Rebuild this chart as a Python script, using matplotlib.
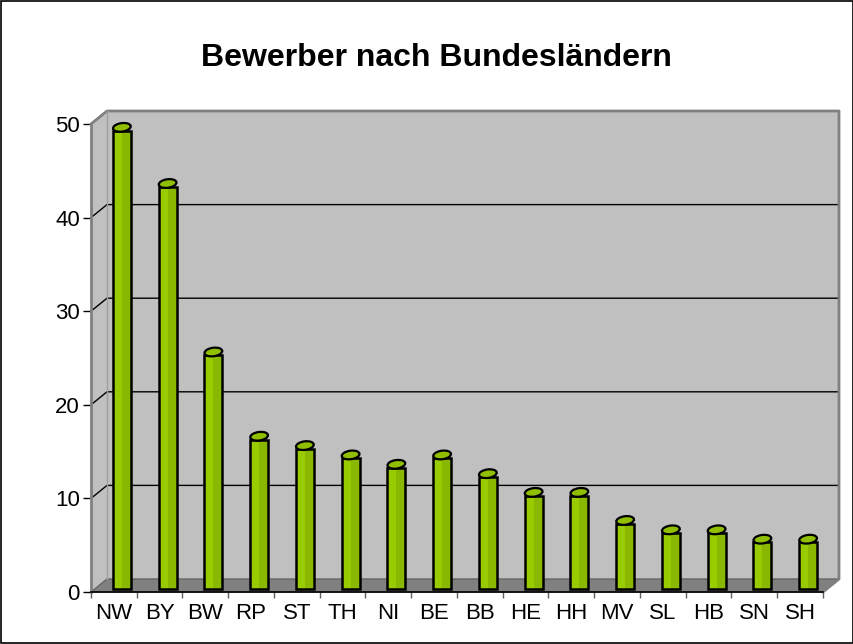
import matplotlib
matplotlib.use("Agg")
import matplotlib.pyplot as plt
from matplotlib.patches import Polygon, Ellipse, Rectangle
from matplotlib.transforms import ScaledTranslation
import numpy as np

plt.rcParams['font.family'] = ['Liberation Sans', 'DejaVu Sans']

categories = ["NW", "BY", "BW", "RP", "ST", "TH", "NI", "BE", "BB", "HE", "HH", "MV", "SL", "HB", "SN", "SH"]
values = [49, 43, 25, 16, 15, 14, 13, 14, 12, 10, 10, 7, 6, 6, 5, 5]
yticks = [0, 10, 20, 30, 40, 50]
title = "Bewerber nach Bundesländern"

W, H = 854, 644
fig = plt.figure(figsize=(W / 100, H / 100), dpi=100)
fig.patch.set_facecolor("white")

L, R, B, T = 91, 823, 592, 124
ax = fig.add_axes([L / W, (H - B) / H, (R - L) / W, (B - T) / H])
n = len(categories)
ax.set_xlim(-0.5, n - 0.5)
ax.set_ylim(0, 50)
ax.patch.set_visible(False)

pxx = (R - L) / n
pxy = (B - T) / 50.0
ox, oy = 16 / pxx, 13 / pxy          # full depth in data units
mx, my = 8 / pxx, 6 / pxy            # bar depth (middle)

x0, x1 = -0.5, n - 0.5
wall = "#c0c0c0"
# back wall
ax.add_patch(Polygon([(x0 + ox, oy), (x1 + ox, oy), (x1 + ox, 50 + oy), (x0 + ox, 50 + oy)],
                     closed=True, facecolor=wall, edgecolor="none", clip_on=False, zorder=1))
# left wall
ax.add_patch(Polygon([(x0, 0), (x0 + ox, oy), (x0 + ox, 50 + oy), (x0, 50)],
                     closed=True, facecolor=wall, edgecolor="none", clip_on=False, zorder=1))
# floor
ax.add_patch(Polygon([(x0, 0), (x1, 0), (x1 + ox, oy), (x0 + ox, oy)],
                     closed=True, facecolor="#808080", edgecolor="#666666", lw=1, clip_on=False, zorder=1))
# gridlines
for v in yticks[1:-1]:
    ax.plot([x0, x0 + ox, x1 + ox], [v, v + oy, v + oy], color="black", lw=1, clip_on=False, zorder=2)
# wall edges
ax.plot([x0, x0 + ox, x1 + ox, x1 + ox, x1], [50, 50 + oy, 50 + oy, oy, 0],
        color="#808080", lw=2, clip_on=False, zorder=2)
ax.plot([x0 + ox, x0 + ox], [oy, 50 + oy], color="#a0a0a0", lw=1, clip_on=False, zorder=2)

# bars (cylinders)
bw = 0.39
light = "#99cc00"
dark = "#7ea800"
for i, v in enumerate(values):
    xc = i + mx
    ax.bar(xc, v, width=bw, bottom=my - 0.35, color=light, edgecolor="none", zorder=3, clip_on=False)
    ax.bar(xc + bw * 0.25, v, width=bw * 0.5, bottom=my - 0.35, color=dark, edgecolor="none",
           zorder=3, clip_on=False, alpha=0.55)
    ax.bar(xc, v, width=bw, bottom=my - 0.35, color="none", edgecolor="black", lw=1.8,
           zorder=4, clip_on=False)
    tr = fig.dpi_scale_trans + ScaledTranslation(xc, v + my, ax.transData)
    ax.add_patch(Ellipse((0, 0), width=bw * pxx / 100, height=0.085, angle=8,
                         facecolor="#8fbf00", edgecolor="black", lw=1.6, transform=tr,
                         zorder=5, clip_on=False))

# axes styling
for s in ["top", "right"]:
    ax.spines[s].set_visible(False)
ax.spines["left"].set_color("#808080")
ax.spines["left"].set_linewidth(2)
ax.spines["bottom"].set_color("black")
ax.spines["bottom"].set_linewidth(1.2)
ax.spines["left"].set_zorder(6)
ax.spines["bottom"].set_zorder(6)

ax.set_yticks(yticks)
ax.set_yticklabels([str(t) for t in yticks], fontsize=16)
ax.tick_params(axis="y", length=5.5, width=1, color="black", pad=2.5)
ax.set_xticks(np.arange(n))
ax.set_xticklabels(categories, fontsize=16)
ax.tick_params(axis="x", which="major", length=0, pad=8)
ax.set_xticks(np.arange(n + 1) - 0.5, minor=True)
ax.tick_params(axis="x", which="minor", length=4.5, width=1, color="#606060")

fig.text(436.5 / W, 1 - 66 / H, title, ha="center", va="baseline", fontsize=23, fontweight="bold")

fig.patches.append(Rectangle((0.0006, 0.0008), 0.9986, 0.9984, transform=fig.transFigure,
                             fill=False, edgecolor="black", lw=1.2))

fig.savefig("out.png", dpi=100)
